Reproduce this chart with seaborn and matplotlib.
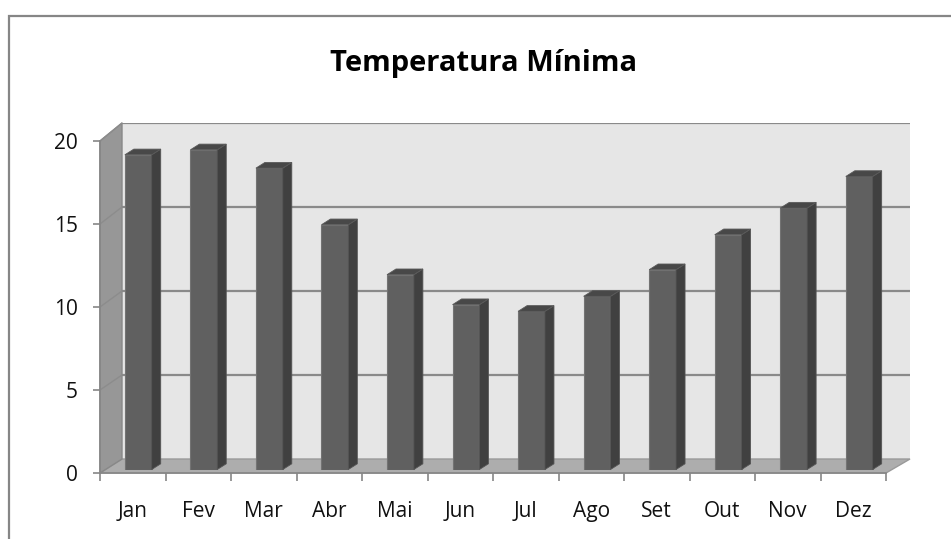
import numpy as np
import matplotlib
matplotlib.use("Agg")
import matplotlib.pyplot as plt
import seaborn as sns
from matplotlib.patches import Polygon, Rectangle
from matplotlib.transforms import IdentityTransform
from matplotlib.lines import Line2D

# ---- data ----
months = ["Jan", "Fev", "Mar", "Abr", "Mai", "Jun", "Jul", "Ago", "Set", "Out", "Nov", "Dez"]
temp_min = [18.9, 19.2, 18.1, 14.7, 11.7, 9.9, 9.5, 10.4, 12.0, 14.1, 15.7, 17.6]
y_ticks = [0, 5, 10, 15, 20]
title = "Temperatura Mínima"

sns.set_theme(style="white")
plt.rcParams['font.family'] = ['Open Sans', 'DejaVu Sans']

W, H = 951, 539
fig = plt.figure(figsize=(W / 100, H / 100), dpi=100)
fig.patch.set_facecolor("white")


def box(l, t, r, b):
    return [l / W, 1 - b / H, (r - l) / W, (b - t) / H]


GRID = "#8a8a8a"
AXC = "#868686"

# back wall axes
ax_back = fig.add_axes(box(122, 123, 910, 459), zorder=0)
ax_back.set_xlim(-0.5, 11.5)
ax_back.set_ylim(0, 20)
ax_back.set_facecolor("#e6e6e6")
for s in ax_back.spines.values():
    s.set_visible(False)
ax_back.set_xticks([])
ax_back.set_yticks([])
for v in y_ticks[1:]:
    ax_back.axhline(v, color=GRID, lw=1.6, zorder=1)

# front axes (ticks/labels)
ax_front = fig.add_axes(box(100, 141, 886, 473), zorder=1)
ax_front.set_xlim(-0.5, 11.5)
ax_front.set_ylim(0, 20)
ax_front.patch.set_alpha(0)
for k in ["top", "right"]:
    ax_front.spines[k].set_visible(False)
for k in ["left", "bottom"]:
    ax_front.spines[k].set_color(AXC)
    ax_front.spines[k].set_linewidth(1.2)
ax_front.set_yticks(y_ticks)
ax_front.set_yticklabels([str(v) for v in y_ticks])
ax_front.set_xticks(np.arange(-0.5, 12, 1))
ax_front.set_xticklabels([""] * 13)
ax_front.set_xticks(range(len(months)), labels=months, minor=True)
ax_front.tick_params(axis="y", which="major", direction="out", length=5, width=1.2,
                     color=AXC, pad=11, labelsize=15, labelcolor="#111111", left=True)
ax_front.tick_params(axis="x", which="major", direction="out", length=6, width=1.2,
                     color=AXC, bottom=True)
ax_front.tick_params(axis="x", which="minor", length=0, pad=20, labelsize=15,
                     labelcolor="#111111", bottom=True)

# bar plane axes (depth fraction)
f = 0.25
bl, br = 100 + 22 * f, 886 + 24 * f
bt, bb = 141 - 18 * f, 473 - 14 * f
ax_bar = fig.add_axes(box(bl, bt, br, bb), zorder=2)
ax_bar.patch.set_alpha(0)
sns.barplot(x=months, y=temp_min, ax=ax_bar, color="#606060", saturation=1,
            width=0.41, edgecolor="#737373", linewidth=0.8)
ax_bar.set_xlim(-0.5, 11.5)
ax_bar.set_ylim(0, 20)
ax_bar.axis("off")

# floor and side wall polygons from axes corners
fT = ax_front.transAxes
bT = ax_back.transAxes
p = lambda T, x, y: T.transform((x, y))
floor = [p(fT, 0, 0), p(fT, 1, 0), p(bT, 1, 0), p(bT, 0, 0)]
side = [p(fT, 0, 0), p(fT, 0, 1), p(bT, 0, 1), p(bT, 0, 0)]
fig.add_artist(Polygon(floor, closed=True, transform=IdentityTransform(),
                       facecolor="#adadad", edgecolor="#9a9a9a", lw=1.0, zorder=0.5))
fig.add_artist(Polygon(side, closed=True, transform=IdentityTransform(),
                       facecolor="#979797", edgecolor="#888888", lw=1.0, zorder=0.5))
for v in y_ticks[1:]:
    a = ax_front.transData.transform((-0.5, v))
    b = ax_back.transData.transform((-0.5, v))
    fig.add_artist(Line2D([a[0], b[0]], [a[1], b[1]], transform=IdentityTransform(),
                          color="#8c8c8c", lw=1.0, zorder=0.6))

# 3D side and top faces of bars
d = np.array([9.0, 5.7])
T = ax_bar.transData
for patch in ax_bar.patches:
    x0 = patch.get_x()
    x1 = x0 + patch.get_width()
    h = patch.get_height()
    A = T.transform((x0, h)); B = T.transform((x1, h)); C = T.transform((x1, 0))
    side_f = [C, B, B + d, C + d]
    top_f = [A, B, B + d, A + d]
    fig.add_artist(Polygon(side_f, closed=True, transform=IdentityTransform(),
                           facecolor="#404040", edgecolor="#555555", lw=0.6, zorder=3))
    fig.add_artist(Polygon(top_f, closed=True, transform=IdentityTransform(),
                           facecolor="#484848", edgecolor="#5a5a5a", lw=0.6, zorder=3))

# title
fig.text(484 / W, 1 - 70.7 / H, title, ha="center", va="baseline",
         fontsize=21, fontweight="bold", color="#000000")

# outer chart border (extends beyond image right/bottom)
fig.add_artist(Rectangle((9 / W, -0.1), 1.2, 1.1 - 16 / H, transform=fig.transFigure,
                         facecolor="none", edgecolor="#868686", lw=1.6, zorder=10))

fig.savefig("out.png", dpi=100)
